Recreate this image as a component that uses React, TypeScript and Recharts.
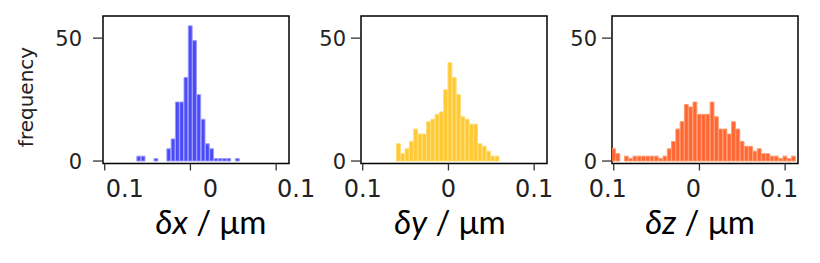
import React from "react";
import { BarChart, Bar, XAxis, YAxis, ReferenceArea } from "recharts";

// bin centres (µm) and counts
const dxBins = [
  -0.06, -0.055, -0.05, -0.045, -0.04, -0.035, -0.03, -0.025, -0.02, -0.015, -0.01, -0.005,
  0, 0.005, 0.01, 0.015, 0.02, 0.025, 0.03, 0.035, 0.04, 0.045, 0.05, 0.055,
];
const dxCounts = [2, 2, 0, 0, 1, 0, 0, 5, 9, 24, 24, 34, 55, 49, 27, 17, 7, 5, 1, 1, 1, 1, 0, 1];

const dyBins = [
  -0.058, -0.053, -0.048, -0.043, -0.038, -0.033, -0.028, -0.023, -0.018, -0.013, -0.008, -0.003,
  0.002, 0.007, 0.012, 0.017, 0.022, 0.027, 0.032, 0.037, 0.042, 0.047, 0.052, 0.057,
];
const dyCounts = [7, 3, 5, 8, 13, 11, 11, 16, 17, 19, 20, 29, 40, 34, 27, 18, 17, 15, 15, 7, 6, 4, 2, 2];

const dzBins = [
  -0.1, -0.095, -0.09, -0.085, -0.08, -0.075, -0.07, -0.065, -0.06, -0.055, -0.05, -0.045,
  -0.04, -0.035, -0.03, -0.025, -0.02, -0.015, -0.01, -0.005, 0, 0.005, 0.01, 0.015, 0.02,
  0.025, 0.03, 0.035, 0.04, 0.045, 0.05, 0.055, 0.06, 0.065, 0.07, 0.075, 0.08, 0.085, 0.09,
  0.095, 0.1, 0.105, 0.11,
];
const dzCounts = [
  5, 3, 0, 2, 1, 2, 2, 2, 2, 2, 2, 1, 2, 5, 8, 13, 16, 23, 22, 24, 19, 19, 19, 24, 18, 13, 13,
  11, 16, 13, 8, 6, 6, 4, 5, 3, 3, 2, 2, 1, 2, 1, 2,
];

const xTicks = [-0.1, 0, 0.1];
const xTickLabels = ["0.1", "0", "0.1"];
const yTicks = [0, 50];

const BIN_WIDTH = 0.005;
const X_DOMAIN: [number, number] = [-0.102, 0.115];
const Y_DOMAIN: [number, number] = [-1, 59];

const PLOT_W = 186;
const AXIS_W = 100;
const RIGHT = 40;
const TOP = 16;
const PLOT_BOTTOM = 163.5;
const XAXIS_H = 75;
const CHART_H = 263;

const toRows = (bins: number[], counts: number[]) =>
  bins.map((b, i) => ({ bin: b, count: counts[i] }));

function XTick(props: any) {
  const { x, y, payload, dx } = props;
  const i = xTicks.indexOf(payload.value);
  return (
    <text x={x + dx} y={y} dy="0.71em" textAnchor="middle" fontFamily="DejaVu Sans" fontSize={24} fill="#222">
      {xTickLabels[i]}
    </text>
  );
}

function YTick(props: any) {
  const { x, y, payload } = props;
  return (
    <text x={x} y={y} dy="0.36em" textAnchor="end" fontFamily="DejaVu Sans" fontSize={21} fill="#222">
      {payload.value}
    </text>
  );
}

function AxisTitle(props: any) {
  const { viewBox, sym, dx } = props;
  const { x, y, width } = viewBox;
  return (
    <text x={x + width / 2 + dx} y={y + 70} textAnchor="middle" fontFamily="Lato" fontSize={33} fill="#000">
      <tspan fontStyle="italic">{"δ" + sym}</tspan>
      {" / μm"}
    </text>
  );
}

function FreqLabel(props: any) {
  const { viewBox } = props;
  const cx = viewBox.x + 30;
  const cy = 97;
  return (
    <text x={cx} y={cy} transform={`rotate(-90, ${cx}, ${cy})`} textAnchor="middle" fontFamily="DejaVu Sans" fontSize={20} fill="#222">
      frequency
    </text>
  );
}

interface PanelProps {
  left: number;
  rows: { bin: number; count: number }[];
  fill: string;
  edge: string;
  sym: string;
  tickDx: number;
  titleDx: number;
  yGap: number;
  freq?: boolean;
}

function Panel({ left, rows, fill, edge, sym, tickDx, titleDx, yGap, freq }: PanelProps) {
  const barSize = (BIN_WIDTH / (X_DOMAIN[1] - X_DOMAIN[0])) * PLOT_W;
  const tickStyle = { stroke: "#333", strokeWidth: 1.3 };
  return (
    <div style={{ position: "absolute", left: left - AXIS_W, top: 0 }}>
      <BarChart
        width={AXIS_W + PLOT_W + RIGHT}
        height={CHART_H}
        data={rows}
        margin={{ top: TOP, right: RIGHT, left: 0, bottom: CHART_H - PLOT_BOTTOM - XAXIS_H }}
      >
        <XAxis
          dataKey="bin"
          type="number"
          domain={X_DOMAIN}
          ticks={xTicks}
          interval={0}
          allowDataOverflow
          height={XAXIS_H}
          axisLine={false}
          tickLine={tickStyle}
          tickSize={7}
          tickMargin={9}
          tick={(p: any) => <XTick {...p} dx={tickDx} />}
          label={<AxisTitle sym={sym} dx={titleDx} />}
        />
        <YAxis
          type="number"
          domain={Y_DOMAIN}
          ticks={yTicks}
          interval={0}
          allowDataOverflow
          width={AXIS_W}
          axisLine={false}
          tickLine={tickStyle}
          tickSize={10}
          tickMargin={yGap}
          tick={<YTick />}
          label={freq ? <FreqLabel /> : undefined}
        />
        <Bar dataKey="count" fill={fill} stroke={edge} strokeWidth={1} barSize={barSize} isAnimationActive={false} />
        <ReferenceArea
          x1={X_DOMAIN[0]}
          x2={X_DOMAIN[1]}
          y1={Y_DOMAIN[0]}
          y2={Y_DOMAIN[1]}
          fill="none"
          fillOpacity={0}
          stroke="#000"
          strokeWidth={1.5}
          ifOverflow="visible"
        />
      </BarChart>
    </div>
  );
}

export default function App() {
  return (
    <div style={{ position: "absolute", left: 0, top: 0, width: 820, height: 263, background: "#fff" }}>
      <Panel left={103} rows={toRows(dxBins, dxCounts)} fill="#4a4af6" edge="#9c9cff" sym="x" tickDx={20} titleDx={15} yGap={11} freq />
      <Panel left={361} rows={toRows(dyBins, dyCounts)} fill="#ffc933" edge="#ffdb70" sym="y" tickDx={0} titleDx={-4} yGap={5} />
      <Panel left={612} rows={toRows(dzBins, dzCounts)} fill="#ff6633" edge="#ff9a70" sym="z" tickDx={-6} titleDx={-5} yGap={5} />
    </div>
  );
}
